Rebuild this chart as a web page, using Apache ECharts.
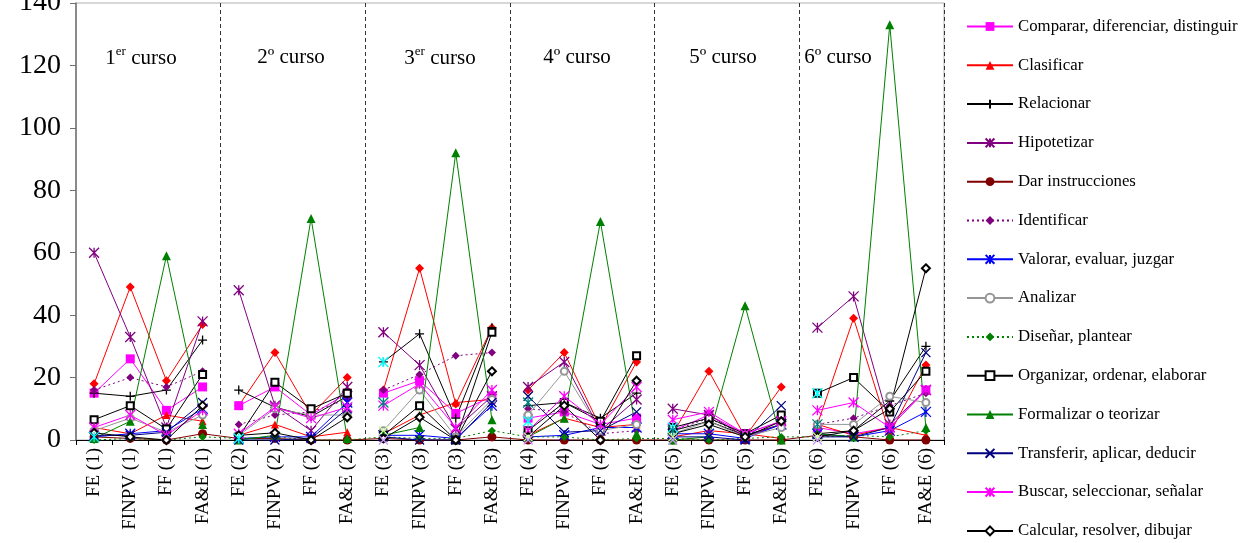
<!DOCTYPE html>
<html><head><meta charset="utf-8">
<script src="https://cdn.jsdelivr.net/npm/echarts@6/dist/echarts.min.js"></script>
<style>html,body{margin:0;padding:0;background:#fff}#c{width:1248px;height:543px}</style>
</head><body><div id="c"></div>
<script>
const categories = ['FE (1)','FINPV (1)','FF (1)','FA&E (1)','FE (2)','FINPV (2)','FF (2)','FA&E (2)',
  'FE (3)','FINPV (3)','FF (3)','FA&E (3)','FE (4)','FINPV (4)','FF (4)','FA&E (4)',
  'FE (5)','FINPV (5)','FF (5)','FA&E (5)','FE (6)','FINPV (6)','FF (6)','FA&E (6)'];
const yTicks = [0,20,40,60,80,100,120,140];
const courseLabels = [['1','er'],['2º',''],['3','er'],['4º',''],['5º',''],['6º','']];

const comparar    = [15,26,9.5,17, 11,17,8,15, 15,19,8.5,14, 7,9,5,7, 3,8,2,6, 4,2,4,16];
const clasificar  = [4,2,8,6, 1.5,5,1,2.5, 2,8,12,13, 1.5,7,4,5, 1,3,2,0.5, 5,1.5,4,1.5];
const relacionar  = [15,14,16,32, 16,10.5,7.5,14, 25,34,7,36, 11,12,7,15, 3,6,1.5,5, 2,3,12.5,30];
const hipotetizar = [60,33,4,38, 48,11,3,17, 34.5,24,3.5,14, 17,25,3,13, 10,8,1,5, 36,46,5,16];
const darInstr    = [1,0.5,0,2, 0.5,0.5,0,0, 0.5,0,0,1, 0,0,0,0, 0,0,0,0, 1.5,1,0,0];
const identificar = [16,20,17,22, 5,8,9,13, 16,21,27,28, 10,9,2,3, 3,7,1.5,5, 5,7,11,15];
const valorar     = [1,2,3,10, 0.5,1,1,12, 1.5,1.5,0.5,11, 1,1.5,4,4, 2,2,0.5,5, 2,1,3,9];
const analizar    = [3,7,2.5,8, 1.5,10,8,8, 3,16,1,13, 8,22,3,5, 2,6,1,4, 5,5,14,12];
const disenar     = [0,0.5,0,1, 0.5,1,0,0, 1,0.5,0.5,3, 1,1,0,0.5, 0.5,0,0.5,1, 1,1.5,1,3];
const organizar   = [6.5,11,3.5,21, 1,18.5,10,15, 1.5,11,0,34.5, 3,12,6,27, 4,7,2,8, 15,20,9,22];
const formalizar  = [0.5,6,59,5, 0,1.5,71,0.5, 1.5,4,92,6.5, 1,7,70,2, 0,1,43,0, 2,1,133,4];
const transferir  = [1.5,1.5,2.5,12, 0,0,0.5,10, 1,0,0,12, 14,2.5,3,9, 1,1,0,11, 1,1,4,28];
const buscar      = [4,8,1.5,9.5, 2,10.5,7,10.5, 11,18,4,16, 3,14,5,17, 6.5,9,2,6, 9.5,12,4,16];
const calcular    = [2.3,1,0,11, 1.5,2.3,0,7.3, 0.5,7.3,0,22, 1,11,0,19, 2,5,1,6, 1,3,10,55];
// series present in the plot but not listed in the legend
const otrosRojo   = [18,49,19,37, 11,28,8,20, 16,55,11.5,36, 16,28,4,25, 2,22,1,17, 5,39,2,24];
const otrosCian   = [1,null,null,null, 0.5,null,null,null, 25,null,null,null, 6,null,null,null, 4,null,null,null, 15,null,null,null];
const otrosTeal   = [null,null,null,null, null,null,null,null, 12,null,null,null, 12,null,null,null, 3,null,null,null, 5,null,null,null];
const otrosClaro  = [null,null,null,null, null,null,null,null, 3,null,null,null, 1,null,null,null, 1,null,null,null, 1,null,null,null];
const otrosLila   = [null,null,null,null, null,null,null,null, 0,null,null,null, 0,null,null,null, 0,null,null,null, 0,null,null,null];

const SERIF = 'Liberation Serif';
const PLUS = 'path://M5,0L5,10M0,5L10,5';
const XMARK = 'path://M0,0L10,10M10,0L0,10';
const AST = 'path://M0,0L10,10M10,0L0,10M5,0L5,10';

const defs = [
  {name:'Otros', data:otrosRojo, color:'#FF0000', symbol:'diamond', size:9, legend:false},
  {name:'Comparar, diferenciar, distinguir', data:comparar, color:'#FF00FF', symbol:'rect', size:9},
  {name:'Clasificar', data:clasificar, color:'#FF0000', symbol:'triangle', size:8},
  {name:'Relacionar', data:relacionar, color:'#000000', symbol:PLUS, size:9, stroke:true},
  {name:'Hipotetizar', data:hipotetizar, color:'#800080', symbol:AST, size:10, stroke:true},
  {name:'Dar instrucciones', data:darInstr, color:'#800000', symbol:'circle', size:9, cont:true},
  {name:'Identificar', data:identificar, color:'#800080', symbol:'diamond', size:8, dotted:true},
  {name:'Valorar, evaluar, juzgar', data:valorar, color:'#0000FF', symbol:AST, size:10, stroke:true},
  {name:'Analizar', data:analizar, color:'#969696', symbol:'emptyCircle', size:7},
  {name:'Diseñar, plantear', data:disenar, color:'#008000', symbol:'diamond', size:8, dotted:true, cont:true},
  {name:'Organizar, ordenar, elaborar', data:organizar, color:'#000000', symbol:'emptyRect', size:7},
  {name:'Formalizar o teorizar', data:formalizar, color:'#008000', symbol:'triangle', size:9},
  {name:'Transferir, aplicar, deducir', data:transferir, color:'#000080', symbol:XMARK, size:9, stroke:true},
  {name:'Buscar, seleccionar, señalar', data:buscar, color:'#FF00FF', symbol:AST, size:10, stroke:true},
  {name:'Calcular, resolver, dibujar', data:calcular, color:'#000000', symbol:'emptyDiamond', size:8},
  {name:'Otros 2', data:otrosCian, color:'#00FFFF', symbol:AST, size:10, stroke:true, legend:false},
  {name:'Otros 3', data:otrosTeal, color:'#008080', symbol:AST, size:10, stroke:true, legend:false},
  {name:'Otros 4', data:otrosClaro, color:'#CCFF99', symbol:XMARK, size:9, stroke:true, legend:false},
  {name:'Otros 5', data:otrosLila, color:'#CC99FF', symbol:XMARK, size:9, stroke:true, legend:false}
];

const series = [];
defs.forEach(d => {
  const parts = d.cont ? [d.data] : [0,1,2,3,4,5].map(c => d.data.map((v,i) => Math.floor(i/4) === c ? v : null));
  parts.forEach(p => {
    series.push({
      name: d.name, type:'line', data:p, connectNulls:false,
      symbol:d.symbol, symbolSize:d.size, showSymbol:true, animation:false,
      lineStyle:{color:d.color, width:1, type: d.dotted ? [2,3] : 'solid'},
      itemStyle:{color: d.stroke ? 'rgba(0,0,0,0)' : d.color, borderColor:d.color, borderWidth: d.stroke ? 1.3 : (d.symbol.indexOf('empty')===0 ? 1 : 0)},
      emphasis:{disabled:true}
    });
  });
});

const chart = echarts.init(document.getElementById('c'), null, {renderer:'canvas'});
chart.setOption({
  animation:false,
  backgroundColor:'#ffffff',
  grid:{left:76, right:304, top:3, bottom:103, show:true, borderColor:'#b0b0b0', borderWidth:1,
        outerBoundsMode:'none', containLabel:false},
  legend:{
    data: defs.filter(d => d.legend !== false).map(d => d.name),
    orient:'vertical', left:966, top:18, padding:0, itemWidth:46, itemHeight:11, itemGap:21.8,
    textStyle:{fontFamily:SERIF, fontSize:16.8, color:'#000', lineHeight:16},
    selectedMode:false
  },
  xAxis:{
    type:'category', data:categories, boundaryGap:true,
    axisLine:{lineStyle:{color:'#000', width:1}},
    axisTick:{show:true, length:5, lineStyle:{color:'#000'}},
    axisLabel:{rotate:90, fontFamily:SERIF, fontSize:19, color:'#000', margin:8, interval:0},
    splitLine:{show:true, interval:(i) => i > 0 && i % 4 === 0, lineStyle:{color:'#333', type:[4,3], width:1}}
  },
  yAxis:{
    type:'value', min:yTicks[0], max:yTicks[yTicks.length-1], interval:20,
    axisLine:{show:true, lineStyle:{color:'#707070', width:1.5}},
    axisTick:{show:true, length:6, lineStyle:{color:'#707070'}},
    axisLabel:{fontFamily:SERIF, fontSize:28, color:'#000', margin:15},
    splitLine:{show:false}
  },
  series: series
});

// course headers
const centers = [141, 291, 440, 577, 723, 838];
chart.setOption({
  graphic: courseLabels.map((c, k) => ({
    type:'text', x:centers[k], y:57,
    style:{
      text: c[1] ? '{a|' + c[0] + '}{s|' + c[1] + '}{a| curso}' : '{a|' + c[0] + ' curso}',
      align:'center', verticalAlign:'middle',
      rich:{a:{fontFamily:SERIF, fontSize:21, fill:'#000', verticalAlign:'bottom'},
            s:{fontFamily:SERIF, fontSize:13, fill:'#000', verticalAlign:'top', padding:[0,0,10,0]}}
    },
    z:100
  }))
});
</script></body></html>
